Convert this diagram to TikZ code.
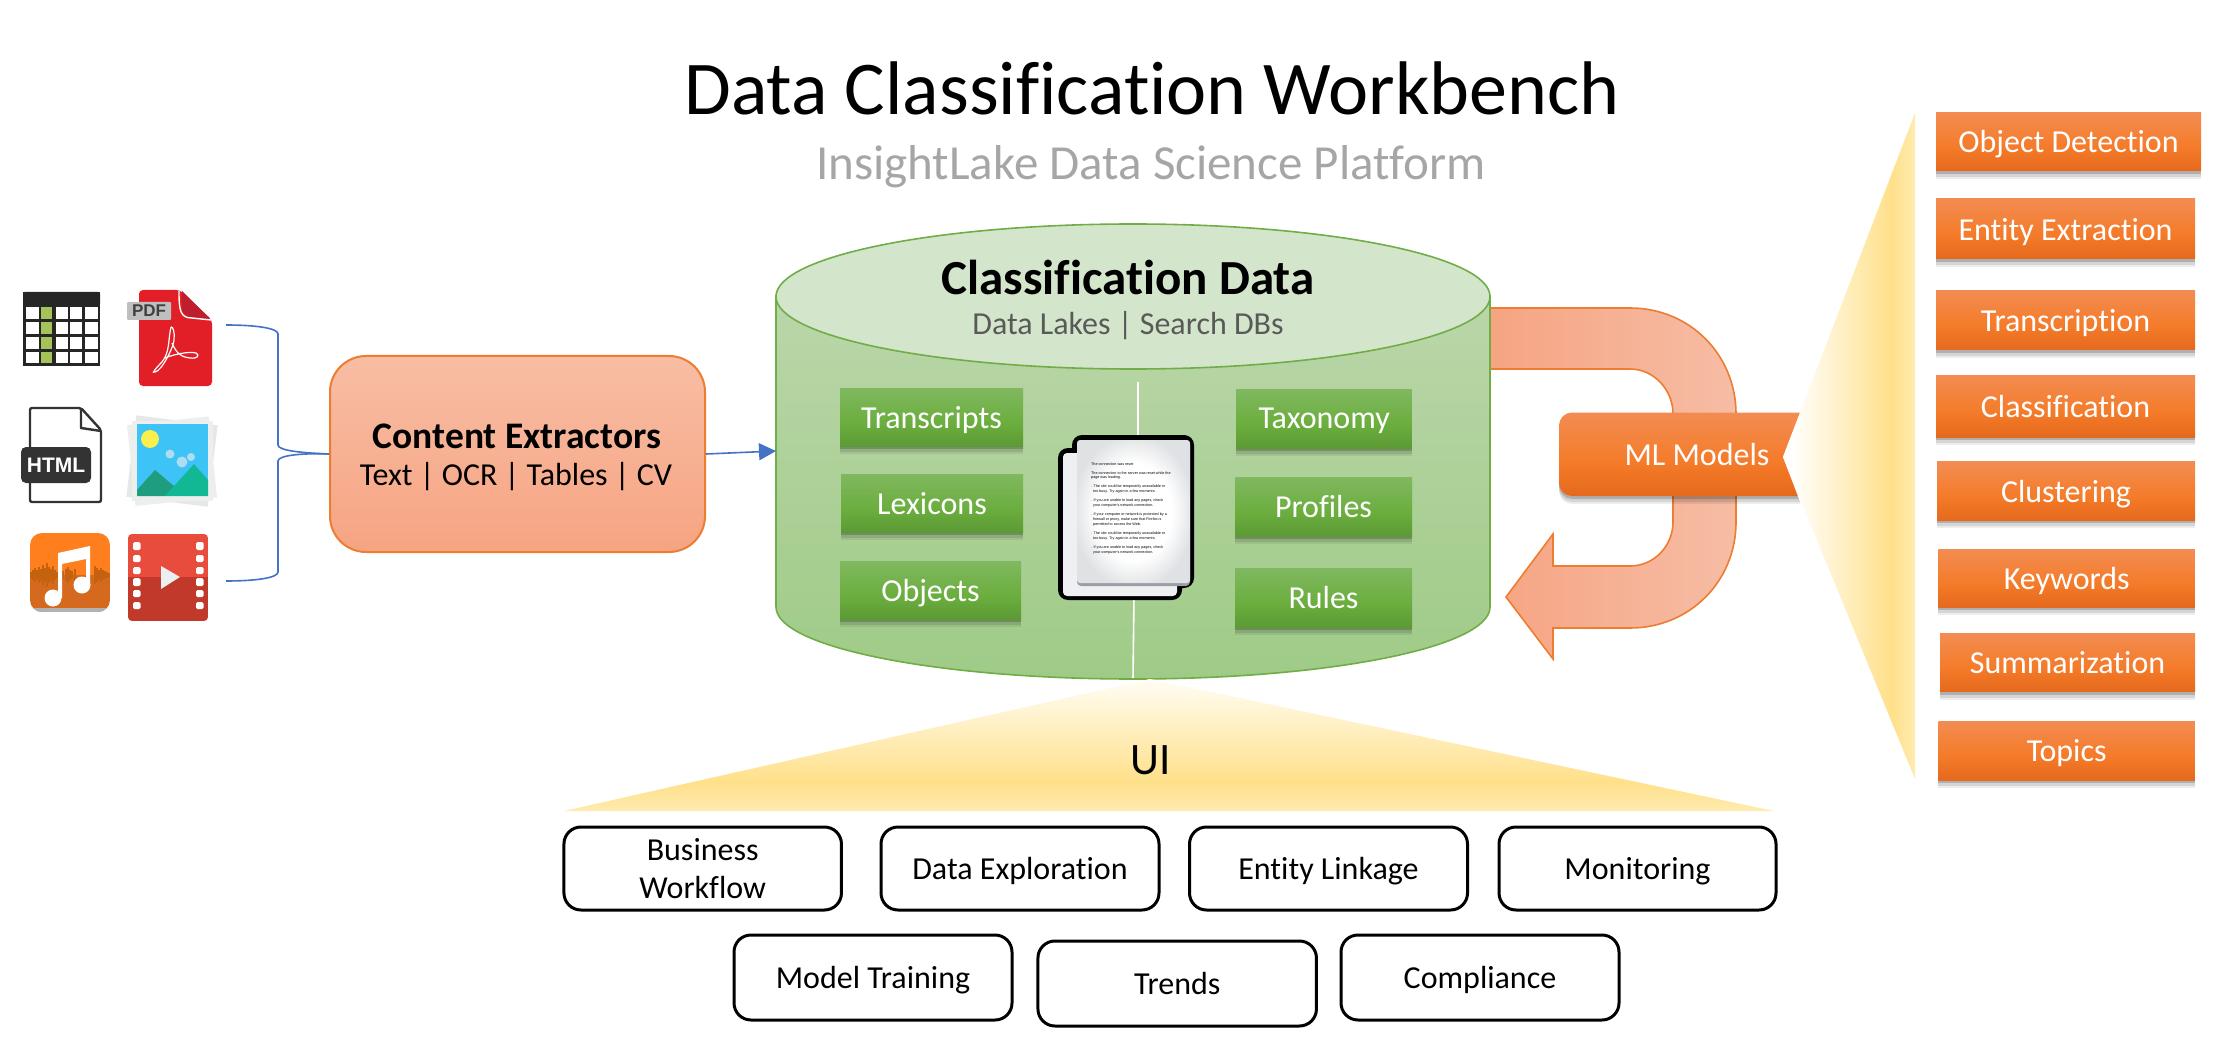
\documentclass[tikz,border=0pt]{standalone}
\usepackage{fontspec}
\setmainfont[Ligatures=NoCommon]{Carlito}
\newfontfamily\lib{Liberation Sans}
\usetikzlibrary{shapes.geometric,arrows.meta}
\newcommand\dc[1]{\definecolor{c#1}{HTML}{#1}}
\dc{ED7D31}\dc{70AD47}\dc{4472C4}\dc{5C9A35}\dc{6BAE3E}\dc{80B860}\dc{E5691D}\dc{F47B29}\dc{F38C52}
\dc{F6A482}\dc{F8BDA4}\dc{9FCB87}\dc{BAD6A9}\dc{F6BDA5}\dc{FFE08A}\dc{FFEBB0}\dc{FFFDF4}\dc{DFE1E4}
\dc{A6C25A}\dc{E21F26}\dc{BE1E2D}\dc{333333}\dc{1FB5A0}\dc{E6E8E8}\dc{49C4EE}\dc{EDEEEE}\dc{3DC3F5}\dc{F9EF4D}\dc{AEDDF2}\dc{1F9D7F}\dc{12B893}
\dc{FF7F1E}\dc{D5691E}\dc{C4620F}\dc{E74C3C}\dc{C0392B}\dc{EAF0F1}\dc{D3E6CB}\dc{EFF0F2}\dc{9A9FA6}
\colorlet{oline}{cED7D31}
\colorlet{gline}{c70AD47}
\colorlet{bluec}{c4472C4}
\pgfdeclareverticalshading{greenbox}{100bp}{color(0bp)=(c5C9A35);color(25bp)=(c5C9A35);color(45bp)=(c6BAE3E);color(75bp)=(c80B860);color(100bp)=(c80B860)}
\pgfdeclareverticalshading{orangebox}{100bp}{color(0bp)=(cE5691D);color(25bp)=(cE5691D);color(45bp)=(cF47B29);color(75bp)=(cF38C52);color(100bp)=(cF38C52)}
\pgfdeclareverticalshading{salmonbox}{100bp}{color(0bp)=(cF6A482);color(25bp)=(cF6A482);color(75bp)=(cF8BDA4);color(100bp)=(cF8BDA4)}
\pgfdeclareverticalshading{cylbody}{100bp}{color(0bp)=(c9FCB87);color(25bp)=(c9FCB87);color(75bp)=(cBAD6A9);color(100bp)=(cBAD6A9)}
\pgfdeclarehorizontalshading{uturn}{100bp}{color(0bp)=(cF6A482);color(25bp)=(cF6A482);color(75bp)=(cF6BDA5);color(100bp)=(cF6BDA5)}
\pgfdeclarehorizontalshading{yellowH}{100bp}{color(0bp)=(white);color(28bp)=(white);color(66bp)=(cFFE08A);color(75bp)=(cFFEBB0);color(100bp)=(cFFEBB0)}
\pgfdeclareverticalshading{yellowV}{100bp}{color(0bp)=(cFFEBB0);color(25bp)=(cFFEBB0);color(36bp)=(cFFE08A);color(75bp)=(cFFFDF4);color(100bp)=(cFFFDF4)}
\pgfdeclareradialshading{docpage}{\pgfpoint{0bp}{0bp}}{color(0bp)=(white);color(17bp)=(white);color(27bp)=(cDFE1E4);color(100bp)=(cDFE1E4)}
\tikzset{
  x=1pt,y=-1pt,
  softshadow/.style={
    preaction={fill=black,fill opacity=.07,transform canvas={yshift=-8pt}},
    preaction={fill=black,fill opacity=.10,transform canvas={yshift=-6pt}},
    preaction={fill=black,fill opacity=.18,transform canvas={yshift=-3pt}}},
  greenbk/.style={softshadow,shade,shading=greenbox,inner sep=0pt,text=white,text depth=0pt,font=\fontsize{32}{38}\selectfont},
  orangebk/.style={softshadow,shade,shading=orangebox,inner sep=0pt,text=white,text depth=0pt,font=\fontsize{32}{38}\selectfont},
  whitebk/.style={draw=black,line width=3pt,fill=white,rounded corners=17pt,inner sep=0pt,align=center,text depth=0pt,font=\fontsize{32}{38}\selectfont},
  srcline/.style={draw=bluec,line width=1.6pt},
  tinydoc/.style={anchor=west,inner sep=0pt,font=\lib\fontsize{3.7}{4}\selectfont,text=black},
  hole/.style={fill=white,rounded corners=1.5pt},
}
\begin{document}
\begin{tikzpicture}
\useasboundingbox (0,0) rectangle (2232,1064);
% title
\node[font=\fontsize{76}{84}\selectfont] (title) at (1152,88) {Data Classification Workbench};
\node[font=\fontsize{49}{54}\selectfont,text=black!35] (subtitle) at (1151,167) {InsightLake Data Science Platform};

% ---- source icons
% table
\fill[black!85] (23,292) rectangle (100,366);
\fill[black!85,rounded corners=2pt] (23,292) rectangle (100,306);
\foreach \a/\b in {306.7/319,321.7/334,336.7/349,351.7/363}{
  \fill[white] (26,\a) rectangle (39,\b);
  \fill[cA6C25A] (41,\a) rectangle (52,\b);
  \fill[white] (56,\a) rectangle (68,\b);
  \fill[white] (70,\a) rectangle (82,\b);
  \fill[white] (85,\a) rectangle (98,\b);
}
% pdf
\fill[cE21F26,rounded corners=4pt] (139,290) -- (180,290) -- (212,320) -- (212,386) -- (139,386) -- cycle;
\fill[cBE1E2D] (182,291) -- (210,319) -- (190,319) -- (182,311) -- cycle;
\draw[white,line width=1.4pt] (179,291) .. controls (179,310) and (180,318) .. (192,318) -- (211,320);
\draw[white,line width=1.2pt] (171,327) .. controls (168,340) and (170,352) .. (162,362) .. controls (156,368) and (151,374) .. (155,372) .. controls (162,371) and (174,346) .. (174,340) .. controls (175,333) and (173,326) .. (171,327)
  (172,343) .. controls (176,352) and (180,357) .. (190,358) .. controls (198,359) and (200,355) .. (196,353) .. controls (188,351) and (172,355) .. (165,358);
\fill[black!25,rounded corners=1pt] (127,302) rectangle (171,320);
\node[font=\lib\bfseries\fontsize{17}{17}\selectfont,text=black!75,inner sep=0pt] (pdftag) at (149,311) {PDF};
% html
\draw[c333333,line width=2.4pt,line join=round,rounded corners=2pt,fill=white] (30,408) -- (81,408) -- (101,430) -- (101,502) -- (30,502) -- cycle;
\draw[c333333,line width=2.4pt,line join=round] (81,408) -- (81,428) -- (101,431);
\node[fill=c333333,rounded corners=5pt,minimum width=70pt,minimum height=36pt,inner sep=0pt,text=white,font=\lib\bfseries\fontsize{21}{21}\selectfont] (htmltag) at (56,465) {HTML};
% image
\fill[c1FB5A0,rotate around={-6:(172,461)}] (133,423) rectangle (211,499);
\fill[cE6E8E8,rotate around={-7:(172,461)}] (131,420) rectangle (213,502);
\fill[c49C4EE,rotate around={6:(172,461)}] (133,423) rectangle (211,499);
\fill[cEDEEEE,rotate around={6:(172,461)}] (131,420.5) rectangle (213,502);
\fill[cEDEEEE] (132,421) rectangle (213,501);
\fill[c3DC3F5] (137,424) rectangle (208,496);
\fill[cF9EF4D] (150,439) ellipse [x radius=9,y radius=9];
\fill[cAEDDF2] (170,454) circle [radius=4.5] (182,462) circle [radius=5.5] (191,457) circle [radius=4];
\fill[c1F9D7F] (137,490) -- (155,470) -- (175,487) -- (165,496) -- (137,496) -- cycle;
\fill[c12B893] (165,496) -- (194,464) -- (208,480) -- (208,496) -- cycle;
% music
\begin{scope}
\clip[rounded corners=12pt] (30,533) rectangle (110,612);
\fill[cFF7F1E] (30,533) rectangle (110,575);
\fill[cD5691E] (30,575) rectangle (110,612);
\foreach \wx/\wh in {31/3,33/5,35/7,37/5,39/8,41/6,43/10,45/7,47/12,49/8,51/6,53/9,55/5,57/3,63/4,66/6,68/8,70/5,72/4,75/6,95/9,97/7,99/5,101/7,103/5,105/4,107/3,109/2}
  \draw[cC4620F,line width=1.2pt] (\wx,575-\wh) -- (\wx,575+\wh);
\fill[black!30] (30,608) rectangle (110,612);
\end{scope}
\fill[white] (53,598) ellipse [x radius=8.5,y radius=8.5] (82,585) ellipse [x radius=8.5,y radius=8.5];
\fill[white] (58,598) -- (58,553) -- (90,546) -- (90,585) -- (86,585) -- (86,559) -- (62,564) -- (62,598) -- cycle;
% video
\begin{scope}
\clip[rounded corners=4pt] (128,534) rectangle (208,621);
\fill[cE74C3C] (128,534) rectangle (208,577);
\fill[cC0392B] (128,577) rectangle (208,621);
\end{scope}
\foreach \a/\b in {542/550,555/562,567/574,578/586,590/597,602/609}{
  \fill[hole] (133,\a) rectangle (140.5,\b);
  \fill[hole] (196,\a) rectangle (203.5,\b);
}
\fill[cEAF0F1] (161,566) -- (180,577) -- (161,589) -- cycle;

% ---- extractors
\node[draw=oline,line width=2pt,shade,shading=salmonbox,rounded corners=36pt,minimum width=375pt,minimum height=196pt,inner sep=0pt,align=center] (extractors) at (517.5,454) {};
\node[font=\bfseries\fontsize{37.5}{42}\selectfont,inner sep=0pt] (extractorsT) at (517,436) {Content Extractors};
\node[font=\fontsize{32}{38}\selectfont,inner sep=0pt] (extractorsS) at (516,477) {Text | OCR | Tables | CV};
\coordinate (srcTop) at (226,325);
\coordinate (srcBot) at (226,581);
\path[srcline] (srcTop) .. controls (255,325) and (278,328) .. (278,334) -- (278,445) .. controls (278,451) and (305,453) .. (extractors.west);
\path[srcline] (srcBot) .. controls (255,581) and (278,578) .. (278,572) -- (278,461) .. controls (278,455) and (305,453) .. (extractors.west);

% ---- uturn arrow
\shade[shading=uturn,draw=oline,line width=1.6pt]
  (1488,308) -- (1630,308) .. controls (1690,308) and (1736,355) .. (1736,414) -- (1736,522)
  .. controls (1736,581) and (1690,628) .. (1630,628) -- (1553,628) -- (1553,659) -- (1506,597) -- (1553,534) -- (1553,566) -- (1630,566)
  .. controls (1654,566) and (1673,546) .. (1673,522) -- (1673,414) .. controls (1673,390) and (1654,369) .. (1630,369) -- (1488,369) -- cycle;

% ---- cylinder
\shade[shading=cylbody,draw=gline,line width=1.6pt]
  (776,296) -- (776,607) .. controls (776,647) and (936,679) .. (1133,679) .. controls (1330,679) and (1490,647) .. (1490,607) -- (1490,296) -- cycle;
\node[ellipse,draw=gline,line width=1.6pt,fill=cD3E6CB,minimum width=714pt,minimum height=145pt,inner sep=0pt] (cyltop) at (1133,296.5) {};
\coordinate (cylwest) at (776,451);
\draw[bluec,line width=1.6pt,-{Triangle[length=17pt,width=17pt]}] (extractors.east) -- (cylwest);
\node[font=\bfseries\fontsize{49}{54}\selectfont,inner sep=0pt] (cyltitle) at (1128,277) {Classification Data};
\node[font=\fontsize{32}{38}\selectfont,text=black!65,inner sep=0pt] (cylsub) at (1128,326) {Data Lakes | Search DBs};
\draw[white,line width=1.6pt] (1138,382) -- (1138,440);
\draw[white,line width=1.6pt] (1134,596) -- (1133,678);

% green boxes
\node[greenbk,minimum width=183pt,minimum height=58pt] (transcripts) at (931.5,417) {Transcripts};
\node[greenbk,minimum width=182pt,minimum height=58pt] (lexicons) at (932,503) {Lexicons};
\node[greenbk,minimum width=181pt,minimum height=58pt] (objects) at (930.5,590) {Objects};
\node[greenbk,minimum width=175.5pt,minimum height=59pt] (taxonomy) at (1324.2,418.5) {Taxonomy};
\node[greenbk,minimum width=177pt,minimum height=59pt] (profiles) at (1323.5,506.5) {Profiles};
\node[greenbk,minimum width=177pt,minimum height=59pt] (rules) at (1323.5,597.5) {Rules};

% document icon
\fill[black,rounded corners=10pt] (1058,448) rectangle (1182,600);
\fill[black,rounded corners=10pt] (1072,435) rectangle (1194,588);
\fill[cEFF0F2,rounded corners=4pt] (1063,453) rectangle (1177,596);
\fill[c9A9FA6,rounded corners=4pt] (1077,442) rectangle (1190,586);
\shade[shading=docpage,rounded corners=3pt] (1077,440) rectangle (1190,583);
\foreach \ty/\tx/\tl in {
  464/1091/{The connection was reset},
  473.3/1091/{The connection to the server was reset while the},
  477.8/1091/{page was loading.},
  487/1091/{. The site could be temporarily unavailable or},
  491.6/1093/{too busy. Try again in a few moments.},
  501/1091/{. If you are unable to load any pages, check},
  505.6/1093/{your computer's network connection.},
  515/1091/{. If your computer or network is protected by a},
  520/1093/{firewall or proxy, make sure that Firefox is},
  524.6/1093/{permitted to access the Web.},
  534/1091/{. The site could be temporarily unavailable or},
  539/1093/{too busy. Try again in a few moments.},
  548/1091/{. If you are unable to load any pages, check},
  553/1093/{your computer's network connection.}}
  \node[tinydoc] at (\tx,\ty) {\tl};

% ---- ML models
\path[softshadow,shade,shading=orangebox,rounded corners=13pt] (1700,412.5) -- (1559,412.5) -- (1559,496) -- (1815,496) [sharp corners] -- (1815,412.5) -- cycle;
\fill[white] (1783,457) -- (1830,335) -- (1830,580) -- cycle;
\shade[shading=yellowH] (1783,457) -- (1915,113) -- (1915,779) -- cycle;
\node[text=white,font=\fontsize{32}{38}\selectfont,inner sep=0pt] (ml) at (1697,455) {ML Models};

% orange boxes
\node[orangebk,minimum width=265pt,minimum height=58.5pt] (o1) at (2068.5,141.7) {Object Detection};
\node[orangebk,minimum width=259pt,minimum height=60pt] (o2) at (2065.5,229) {Entity Extraction};
\node[orangebk,minimum width=259pt,minimum height=59pt] (o3) at (2065.5,320.5) {Transcription};
\node[orangebk,minimum width=259pt,minimum height=62pt] (o4) at (2065.5,406) {Classification};
\node[orangebk,minimum width=258pt,minimum height=58.5pt] (o5) at (2066,491.2) {Clustering};
\node[orangebk,minimum width=256.5pt,minimum height=58pt] (o6) at (2066.7,578) {Keywords};
\node[orangebk,minimum width=255pt,minimum height=58pt] (o7) at (2067.5,662.5) {Summarization};
\node[orangebk,minimum width=256.5pt,minimum height=59pt] (o8) at (2066.7,750.5) {Topics};

% ---- UI
\shade[shading=yellowV] (1150,679) -- (1774,811) -- (564,811) -- cycle;
\node[font=\fontsize{45}{50}\selectfont,inner sep=0pt] (ui) at (1151,760) {UI};
\node[whitebk,minimum width=277.5pt,minimum height=83pt] (w1) at (702.7,868.5) {Business\\Workflow};
\node[whitebk,minimum width=278pt,minimum height=83pt] (w2) at (1020,868.5) {Data Exploration};
\node[whitebk,minimum width=278pt,minimum height=83pt] (w3) at (1328.5,868.5) {Entity Linkage};
\node[whitebk,minimum width=277pt,minimum height=83pt] (w4) at (1637.5,868.5) {Monitoring};
\node[whitebk,minimum width=278pt,minimum height=85pt] (w5) at (873,977.5) {Model Training};
\node[whitebk,minimum width=278.5pt,minimum height=85pt] (w6) at (1177.2,983.5) {Trends};
\node[whitebk,minimum width=278pt,minimum height=85pt] (w7) at (1480,977.5) {Compliance};
\end{tikzpicture}
\end{document}
